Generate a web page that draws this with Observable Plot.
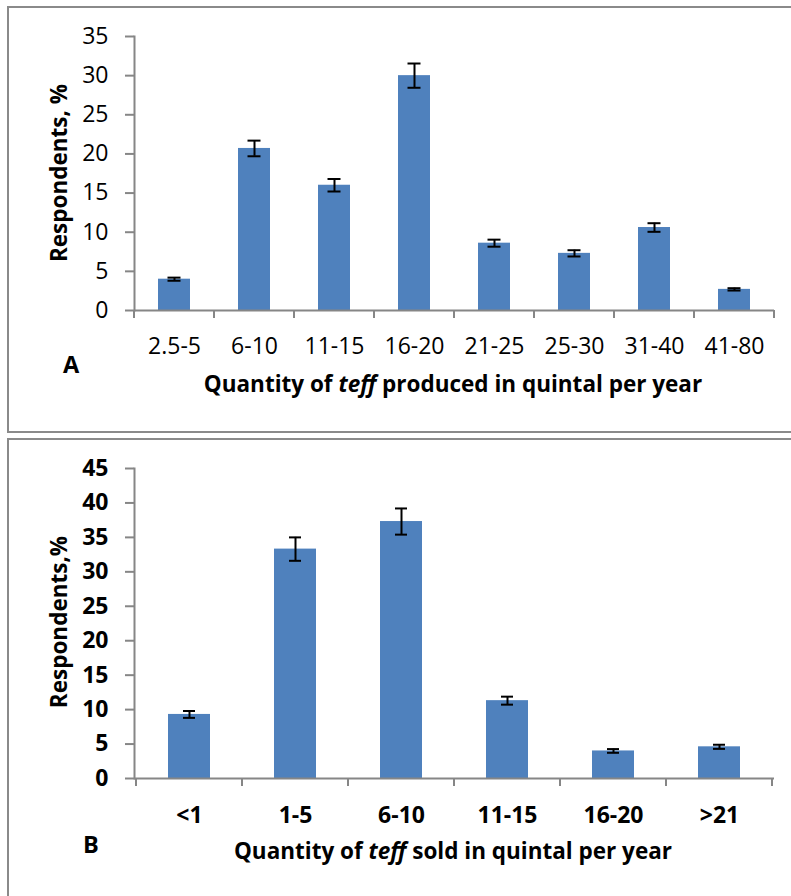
<!DOCTYPE html>
<html>
<head>
<meta charset="utf-8">
<script src="https://cdn.jsdelivr.net/npm/d3@7"></script>
<script src="https://cdn.jsdelivr.net/npm/@observablehq/plot@0.6"></script>
<style>
  html, body { margin: 0; padding: 0; background: #fff; }
  #page { position: relative; width: 791px; height: 896px; overflow: hidden; background: #fff; font-family: "Open Sans", sans-serif; }
  .box { position: absolute; box-sizing: border-box; border: 2px solid #8a8a8a; }
  .layer { position: absolute; left: 0; }
</style>
</head>
<body>
<div id="page">
  <div class="box" style="left:7px;top:6px;width:820px;height:427px;"></div>
  <div class="box" style="left:7px;top:438px;width:820px;height:480px;"></div>
  <div id="plotA" class="layer" style="top:0px;"></div>
  <div id="plotB" class="layer" style="top:433px;"></div>
  <svg id="titles" class="layer" style="top:0;pointer-events:none" width="791" height="896"></svg>
</div>
<script>
// ---- Data (panel A: produced) ----
const catsA = ["2.5-5", "6-10", "11-15", "16-20", "21-25", "25-30", "31-40", "41-80"];
const valsA = [4.0, 20.7, 16.0, 30.0, 8.6, 7.3, 10.6, 2.7];
const errA  = [0.2, 1.0, 0.8, 1.55, 0.45, 0.4, 0.55, 0.15];
const yTicksA = [0, 5, 10, 15, 20, 25, 30, 35];

// ---- Data (panel B: sold) ----
const catsB = ["<1", "1-5", "6-10", "11-15", "16-20", ">21"];
const valsB = [9.3, 33.3, 37.3, 11.3, 4.0, 4.6];
const errB  = [0.5, 1.7, 1.9, 0.58, 0.27, 0.3];
const yTicksB = [0, 5, 10, 15, 20, 25, 30, 35, 40, 45];

const dataA = catsA.map((c, i) => ({cat: c, v: valsA[i], e: errA[i]}));
const dataB = catsB.map((c, i) => ({cat: c, v: valsB[i], e: errB[i]}));

const BAR = "#4F81BD";
const AXIS = "#868686";
const FONT = "'Open Sans', sans-serif";

// tick marks at category boundaries (Excel style), computed from the band scale
function bandTicks(cats, len, color) {
  return (index, scales) => {
    const x = scales.x;
    const dom = x.domain ? x.domain() : cats;
    const bw = x.bandwidth ? x.bandwidth() : 0;
    const step = x.step ? x.step() : bw;
    const pad = (step - bw) / 2;
    const xs = dom.map(c => x(c) - pad);
    xs.push(x(dom[dom.length - 1]) + bw + pad);
    const y0 = scales.y(0);
    const g = d3.create("svg:g");
    g.selectAll("line").data(xs).join("line")
      .attr("x1", d => d).attr("x2", d => d)
      .attr("y1", y0).attr("y2", y0 + len)
      .attr("stroke", color).attr("stroke-width", 2);
    return g.node();
  };
}

function panel({data, cats, yMax, yTicks, height, marginTop, marginBottom, bold, capInset, xPad, yPad, fs}) {
  return Plot.plot({
    width: 791,
    height,
    marginLeft: 134,
    marginRight: 17,
    marginTop,
    marginBottom,
    style: {background: "transparent", fontFamily: FONT, overflow: "visible"},
    x: {type: "band", domain: cats, paddingInner: 0.6, paddingOuter: 0.3, label: null},
    y: {domain: [0, yMax], label: null},
    marks: [
      Plot.barY(data, {x: "cat", y: "v", fill: BAR}),
      Plot.ruleX(data, {x: "cat", y1: d => d.v - d.e, y2: d => d.v + d.e, stroke: "#000", strokeWidth: 2}),
      Plot.tickY(data, {x: "cat", y: d => d.v + d.e, stroke: "#000", strokeWidth: 2, insetLeft: capInset, insetRight: capInset}),
      Plot.tickY(data, {x: "cat", y: d => d.v - d.e, stroke: "#000", strokeWidth: 2, insetLeft: capInset, insetRight: capInset}),
      Plot.frame({anchor: "left", stroke: AXIS, strokeWidth: 2}),
      Plot.ruleY([0], {stroke: AXIS, strokeWidth: 2}),
      Plot.axisY({ticks: yTicks, tickSize: 9, tickPadding: yPad, stroke: AXIS, strokeWidth: 2, fill: "#000",
                  fontSize: fs, fontWeight: bold ? "bold" : "normal", label: null}),
      Plot.axisX({tickSize: 0, tickPadding: xPad, fill: "#000", fontSize: fs,
                  fontWeight: bold ? "bold" : "normal", label: null}),
      bandTicks(cats, 8, AXIS)
    ]
  });
}

document.getElementById("plotA").appendChild(panel({
  data: dataA, cats: catsA, yMax: 35, yTicks: yTicksA, height: 433,
  marginTop: 36, marginBottom: 123, bold: false, capInset: 9.5, xPad: 27, yPad: 17, fs: 23
}));
document.getElementById("plotB").appendChild(panel({
  data: dataB, cats: catsB, yMax: 45, yTicks: yTicksB, height: 463,
  marginTop: 35, marginBottom: 118, bold: true, capInset: 15, xPad: 28, yPad: 17, fs: 23
}));

// ---- Titles and panel letters ----
const svg = d3.select("#titles");
const T = svg.append("g").attr("font-family", FONT).attr("font-weight", "bold").attr("fill", "#000");

T.append("text").attr("transform", "translate(67,173) rotate(-90)").attr("text-anchor", "middle")
  .attr("font-size", 22.5).text("Respondents, %");
T.append("text").attr("transform", "translate(67,622) rotate(-90)").attr("text-anchor", "middle")
  .attr("font-size", 22.5).text("Respondents,%");

const xa = T.append("text").attr("x", 453).attr("y", 392).attr("text-anchor", "middle").attr("font-size", 22.5);
xa.append("tspan").text("Quantity of ");
xa.append("tspan").attr("font-style", "italic").text("teff");
xa.append("tspan").text(" produced in quintal per year");

const xb = T.append("text").attr("x", 453).attr("y", 859).attr("text-anchor", "middle").attr("font-size", 22.5);
xb.append("tspan").text("Quantity of ");
xb.append("tspan").attr("font-style", "italic").text("teff");
xb.append("tspan").text(" sold in quintal per year");

T.append("text").attr("x", 63).attr("y", 373).attr("font-size", 23.5).text("A");
T.append("text").attr("x", 83).attr("y", 853).attr("font-size", 23.5).text("B");
</script>
</body>
</html>
